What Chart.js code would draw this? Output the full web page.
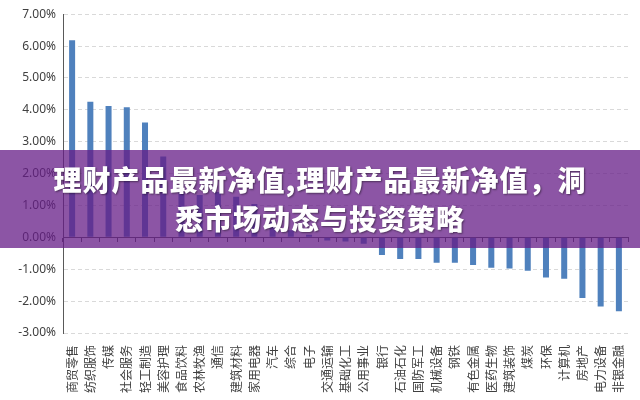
<!DOCTYPE html>
<html>
<head>
<meta charset="utf-8">
<script src="https://cdn.jsdelivr.net/npm/chart.js@4"></script>
<style>
  html, body { margin: 0; padding: 0; background: #fff; }
  #wrap { position: relative; width: 640px; height: 400px; }
  #banner {
    position: absolute; left: 0; top: 150px; width: 640px; height: 98px;
    background: rgba(101, 28, 135, 0.75);
    color: #fff; text-align: center;
    font-family: "Noto Sans CJK SC", sans-serif; font-weight: 900;
    font-size: 28px; line-height: 39px; letter-spacing: 1px;
    padding-top: 10px; box-sizing: border-box;
    text-shadow: 1px 1px 2px rgba(0,0,0,0.45);
  }
</style>
</head>
<body>
<div id="wrap">
  <canvas id="chart" width="640" height="400"></canvas>
  <div id="banner">理财产品最新净值,理财产品最新净值，洞<br>悉市场动态与投资策略</div>
</div>
<script>
/* ── data ── */
const industries = ['商贸零售', '纺织服饰', '传媒', '社会服务', '轻工制造', '美容护理', '食品饮料', '农林牧渔',
    '通信', '建筑材料', '家用电器', '汽车', '综合', '电子', '交通运输', '基础化工', '公用事业', '银行',
    '石油石化', '国防军工', '机械设备', '钢铁', '有色金属', '医药生物', '建筑装饰', '煤炭', '环保',
    '计算机', '房地产', '电力设备', '非银金融'];
const changePct = [6.18, 4.25, 4.12, 4.08, 3.6, 2.54, 1.42, 1.33, 1.42, 1.27, 1.05, 0.5, 0.22, 0.08,
    -0.1, -0.13, -0.2, -0.55, -0.68, -0.68, -0.8, -0.8, -0.87, -0.95, -0.98, -1.05, -1.26, -1.3,
    -1.9, -2.17, -2.32];
const yMin = -3, yMax = 7, yStep = 1;

const axisColor = '#595959';
const tickFont = {family: 'Noto Sans', size: 12};

new Chart(document.getElementById('chart'), {
    type: 'bar',
    data: {
        labels: industries,
        datasets: [{
            data: changePct,
            backgroundColor: '#4f81bd',
            barPercentage: 0.33,
            categoryPercentage: 1,
            xAxisID: 'x',
        }]
    },
    options: {
        responsive: false,
        animation: false,
        layout: {padding: {top: 4, right: 12, left: 0, bottom: 0}},
        plugins: {legend: {display: false}, tooltip: {enabled: false}},
        scales: {
            x: {
                position: 'bottom',
                grid: {display: false},
                border: {display: false},
                ticks: {
                    color: '#404040',
                    font: {family: 'Noto Sans CJK SC', size: 12},
                    minRotation: 90, maxRotation: 90,
                    autoSkip: false, padding: 4,
                },
                afterFit: s => { s.height = 67; }
            },
            // axis line drawn through zero with small tick marks
            x2: {
                type: 'category',
                position: {y: 0},
                offset: true,
                grid: {drawOnChartArea: false, drawTicks: true, tickLength: 4, offset: true, color: axisColor},
                border: {color: axisColor, width: 1},
                ticks: {display: false, autoSkip: false}
            },
            y: {
                min: yMin, max: yMax,
                ticks: {
                    stepSize: yStep,
                    color: '#404040',
                    font: tickFont,
                    padding: 7,
                    callback: v => v.toFixed(2) + '%'
                },
                grid: {color: '#d9d9d9', drawTicks: false},
                border: {color: axisColor, width: 1, dash: [4, 3]},
                afterFit: s => { s.width = 63; }
            }
        }
    }
});
</script>
</body>
</html>
